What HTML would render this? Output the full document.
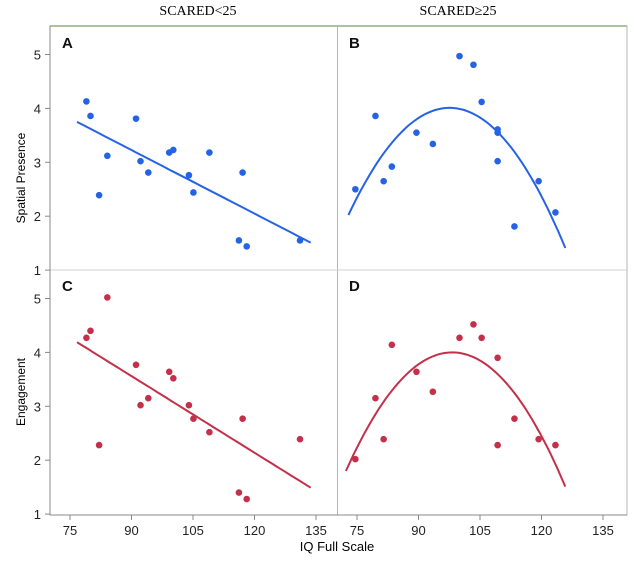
<!DOCTYPE html>
<html><head><meta charset="utf-8"><style>
html,body{margin:0;padding:0;background:#fff;width:634px;height:563px;overflow:hidden}
svg text{font-family:"Liberation Sans",sans-serif}
</style></head><body>
<svg id="chart" width="634" height="563" viewBox="0 0 634 563" xmlns="http://www.w3.org/2000/svg">
<text x="198" y="15" font-family="Liberation Serif" font-size="14" text-anchor="middle" style="font-family:'Liberation Serif',serif">SCARED&lt;25</text>
<text x="458" y="15" font-size="14" text-anchor="middle" style="font-family:'Liberation Serif',serif">SCARED≥25</text>
<g id="frame"></g>
<g id="marks"></g>
<text transform="translate(25,178) rotate(-90)" font-size="12" text-anchor="middle">Spatial Presence</text>
<text transform="translate(25,392) rotate(-90)" font-size="12" text-anchor="middle">Engagement</text>
<text x="337" y="551" font-size="13" text-anchor="middle">IQ Full Scale</text>
</svg>
<script>
const xTicks=[75,90,105,120,135];
const yTicks=[1,2,3,4,5];
const aX=[79,80,84.1,82.1,91.1,92.2,94.1,99.2,100.2,109,104,105.1,117.1,116.2,118.1,131.1];
const aY=[4.13,3.86,3.12,2.39,3.81,3.02,2.81,3.18,3.23,3.18,2.76,2.44,2.81,1.55,1.44,1.55];
const aFitX=[76.7,133.7];
const aFitY=[3.75,1.51];
const bX=[74.6,79.5,81.5,83.5,89.5,93.5,100,103.4,105.4,109.3,109.3,109.3,113.4,119.3,123.4];
const bY=[2.5,3.86,2.65,2.92,3.55,3.34,4.97,4.81,4.12,3.61,3.55,3.02,1.81,2.65,2.07];
const bFitX=[72.9,97.3,125.8];
const bFitY=[2.02,4.01,1.41];
const cX=[79,80,84.1,82.1,91.1,92.2,94.1,99.2,100.2,104,105.1,109,117.1,116.2,118.1,131.1];
const cY=[4.27,4.4,5.02,2.28,3.77,3.02,3.15,3.64,3.52,3.02,2.77,2.52,2.77,1.4,1.28,2.39];
const cFitX=[76.7,133.7];
const cFitY=[4.19,1.49];
const dX=[74.6,79.5,81.5,83.5,89.5,93.5,100,103.4,105.4,109.3,109.3,113.4,119.3,123.4];
const dY=[2.02,3.15,2.39,4.14,3.64,3.27,4.27,4.52,4.27,3.9,2.28,2.77,2.39,2.28];
const dFitX=[72.3,98.3,125.8];
const dFitY=[1.8,4.0,1.51];

const NS="http://www.w3.org/2000/svg";
const frame=document.getElementById('frame'),marks=document.getElementById('marks');
function mk(tag,at,parent){const e=document.createElementNS(NS,tag);for(const k in at)e.setAttribute(k,at[k]);parent.appendChild(e);return e;}
const colX0=[70,357];
function xs(col,v){return colX0[col]+(v-75)*(61.5/15);}
const row5=[54.5,298.5];
function ys(row,v){return row5[row]+(5-v)*53.9;}
// frame
let e;
e=mk('line',{x1:50,y1:26,x2:627,y2:26,stroke:'#a9d18e','stroke-width':2},frame);


e=mk('rect',{x:50,y:26,width:577,height:489,fill:'none',stroke:'#b4b4b4','stroke-width':1},frame);


e=mk('line',{x1:337.5,y1:26,x2:337.5,y2:515,stroke:'#b4b4b4'},frame);


e=mk('line',{x1:50,y1:270,x2:627,y2:270,stroke:'#d0d0d0'},frame);


e=mk('line',{x1:50,y1:26,x2:50,y2:515,stroke:'#888'},frame);


e=mk('line',{x1:50,y1:515,x2:627,y2:515,stroke:'#888'},frame);


for(let r=0;r<2;r++)for(const t of yTicks){
  const y=ys(r,t);
  e=mk('line',{x1:45,y1:y,x2:50,y2:y,stroke:'#888'},frame);
  
  
  e=mk('text',{x:41,y:y+5,'font-size':13,'text-anchor':'end',fill:'#222'},frame);
  e.textContent=t;
  
  
}
for(let c=0;c<2;c++)for(const t of xTicks){
  const x=xs(c,t);
  e=mk('line',{x1:x,y1:515,x2:x,y2:520,stroke:'#888'},frame);
  
  
  e=mk('text',{x:x,y:535,'font-size':13,'text-anchor':'middle',fill:'#222'},frame);
  e.textContent=t;
  
  
}
const panels=[
 {L:'A',c:0,r:0,X:aX,Y:aY,fx:aFitX,fy:aFitY,col:'#2563e6'},
 {L:'B',c:1,r:0,X:bX,Y:bY,fx:bFitX,fy:bFitY,col:'#2563e6'},
 {L:'C',c:0,r:1,X:cX,Y:cY,fx:cFitX,fy:cFitY,col:'#c4304a'},
 {L:'D',c:1,r:1,X:dX,Y:dY,fx:dFitX,fy:dFitY,col:'#c4304a'}];
function fit(fx,fy,x){
  if(fx.length===2)return fy[0]+(fy[1]-fy[0])*(x-fx[0])/(fx[1]-fx[0]);
  let s=0;for(let i=0;i<3;i++){let p=fy[i];for(let j=0;j<3;j++)if(j!==i)p*=(x-fx[j])/(fx[i]-fx[j]);s+=p;}return s;
}
for(const p of panels){
  e=mk('text',{x:(p.c?349:62),y:(p.r?285:42)+6,'font-size':15,'font-weight':'bold',fill:'#111'},marks);
  e.textContent=p.L;
  
  
  const lo=p.fx[0],hi=p.fx[p.fx.length-1];let d='';
  for(let i=0;i<=60;i++){const x=lo+(hi-lo)*i/60;d+=(i?'L':'M')+xs(p.c,x).toFixed(1)+','+ys(p.r,fit(p.fx,p.fy,x)).toFixed(1);}
  e=mk('path',{d:d,fill:'none',stroke:p.col,'stroke-width':2},marks);
  
  
  for(let i=0;i<p.X.length;i++){
    e=mk('circle',{cx:xs(p.c,p.X[i]),cy:ys(p.r,p.Y[i]),r:3.3,fill:p.col},marks);
    
    
  }
}
</script>
</body></html>
